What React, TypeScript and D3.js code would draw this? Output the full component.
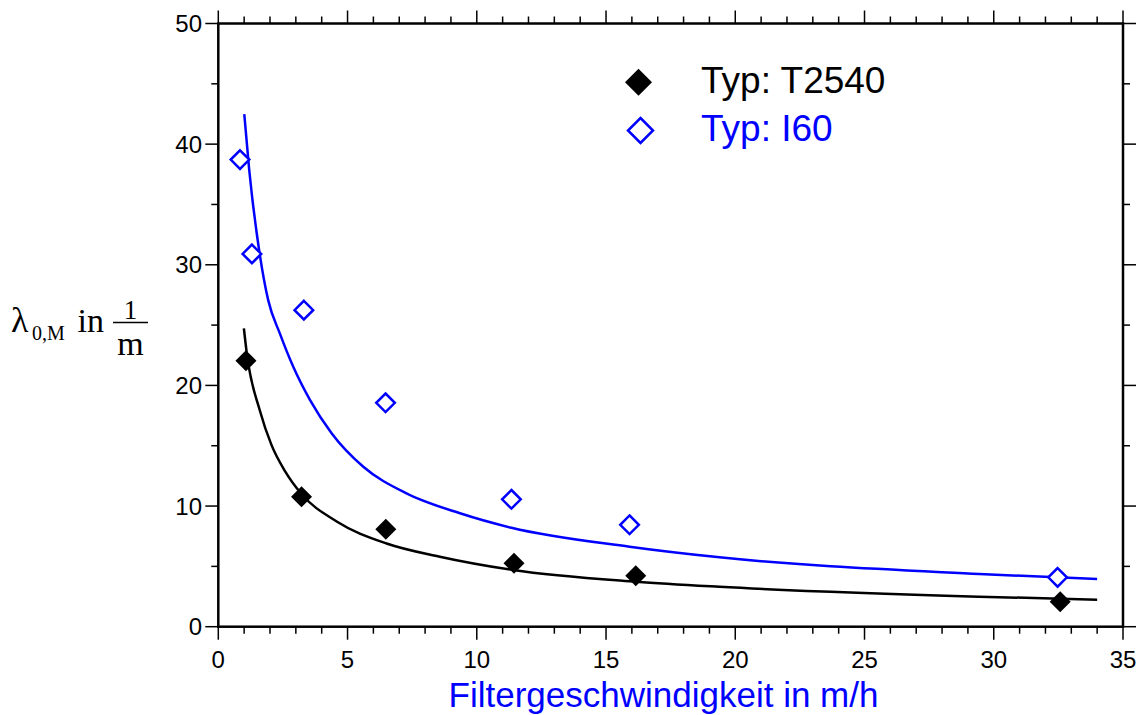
import React from 'react'
import * as d3 from 'd3'

// measured values (Filtergeschwindigkeit in m/h, lambda in 1/m)
const t2540X = [1.07, 3.22, 6.48, 11.44, 16.15, 32.57]
const t2540Y = [22.04, 10.77, 8.07, 5.25, 4.23, 2.07]
const i60X = [0.84, 1.3, 3.31, 6.47, 11.34, 15.91, 32.47]
const i60Y = [38.72, 30.9, 26.24, 18.56, 10.56, 8.45, 4.09]

// fitted curves
const fitBlackX = [0.99, 1.1, 1.61, 2.06, 2.58, 3.22, 4.58, 6.51, 8.57, 11.4, 16.17, 19.39, 29.44, 34]
const fitBlackY = [24.72, 22.7, 17.9, 15.05, 12.9, 11.0, 8.72, 6.9, 5.8, 4.7, 3.73, 3.31, 2.49, 2.24]
const fitBlueX = [1.005, 1.19, 1.58, 1.93, 2.38, 2.9, 3.55, 4.39, 5.61, 7.28, 9.35, 11.34, 15.91, 19.39, 29.44, 34]
const fitBlueY = [42.48, 38.0, 31.2, 27.07, 24.31, 21.54, 18.78, 16.02, 13.26, 11.05, 9.4, 8.2, 6.63, 5.75, 4.37, 3.95]

const xMajor = [0, 5, 10, 15, 20, 25, 30, 35]
const yMajor = [0, 10, 20, 30, 40, 50]

const legendLabels = ['Typ: T2540', 'Typ: I60']

const W = 1143
const H = 715
const m = { left: 218.3, right: 1123, top: 23.5, bottom: 626.7 }
const BLUE = '#0000ff'

function diamond(cx: number, cy: number, r: number) {
  return `M${cx},${cy - r}L${cx + r},${cy}L${cx},${cy + r}L${cx - r},${cy}Z`
}

export default function App() {
  const x = d3.scaleLinear().domain([0, 35]).range([m.left, m.right])
  const y = d3.scaleLinear().domain([0, 50]).range([m.bottom, m.top])

  const line = d3.line<[number, number]>()
    .x(d => x(d[0]))
    .y(d => y(d[1]))
    .curve(d3.curveMonotoneX)

  const blackPath = line(fitBlackX.map((v, i) => [v, fitBlackY[i]]))
  const bluePath = line(fitBlueX.map((v, i) => [v, fitBlueY[i]]))

  const xMinor = d3.range(0, 36, 1).filter(v => v % 5 !== 0)
  const yMinor = d3.range(5, 50, 10)

  const sans = 'Liberation Sans, Arial, sans-serif'
  const serif = 'Liberation Serif, Times New Roman, serif'

  return (
    <svg width={W} height={H} style={{ position: 'absolute', left: 0, top: 0, background: '#fff' }}>
      {/* frame */}
      <rect x={m.left} y={m.top} width={m.right - m.left} height={m.bottom - m.top}
        fill="none" stroke="#000" strokeWidth={2.5} />

      {/* ticks on all four sides, pointing outward */}
      <g stroke="#000" strokeWidth={1.5}>
        {xMajor.map(v => (
          <g key={'xm' + v}>
            <line x1={x(v)} x2={x(v)} y1={m.bottom} y2={m.bottom + 13} />
            <line x1={x(v)} x2={x(v)} y1={m.top} y2={m.top - 13} />
          </g>
        ))}
        {xMinor.map(v => (
          <g key={'xn' + v}>
            <line x1={x(v)} x2={x(v)} y1={m.bottom} y2={m.bottom + 7} />
            <line x1={x(v)} x2={x(v)} y1={m.top} y2={m.top - 7} />
          </g>
        ))}
        {yMajor.map(v => (
          <g key={'ym' + v}>
            <line x1={m.left} x2={m.left - 13} y1={y(v)} y2={y(v)} />
            <line x1={m.right} x2={m.right + 13} y1={y(v)} y2={y(v)} />
          </g>
        ))}
        {yMinor.map(v => (
          <g key={'yn' + v}>
            <line x1={m.left} x2={m.left - 7} y1={y(v)} y2={y(v)} />
            <line x1={m.right} x2={m.right + 7} y1={y(v)} y2={y(v)} />
          </g>
        ))}
      </g>

      {/* tick labels */}
      <g fontFamily={sans} fontSize={24} fill="#000">
        {xMajor.map(v => (
          <text key={'xl' + v} x={x(v)} y={667.5} textAnchor="middle">{v}</text>
        ))}
        {yMajor.map(v => (
          <text key={'yl' + v} x={202} y={y(v) + 8.5} textAnchor="end">{v}</text>
        ))}
      </g>

      {/* x title */}
      <text x={663.5} y={707} textAnchor="middle" fontFamily={sans} fontSize={35} fill={BLUE}>
        Filtergeschwindigkeit in m/h
      </text>

      {/* y title */}
      <g fontFamily={serif} fill="#000">
        <text x={11} y={331.5} fontSize={36}>λ</text>
        <text x={32} y={339.5} fontSize={20}>0,M</text>
        <text x={77.5} y={331.5} fontSize={34}>in</text>
        <text x={130.5} y={319} fontSize={27} textAnchor="middle">1</text>
        <line x1={113} x2={148} y1={322.5} y2={322.5} stroke="#000" strokeWidth={1.5} />
        <text x={130.5} y={355} fontSize={34} textAnchor="middle">m</text>
      </g>

      {/* fit curves */}
      <path d={bluePath ?? ''} fill="none" stroke={BLUE} strokeWidth={2.5} />
      <path d={blackPath ?? ''} fill="none" stroke="#000" strokeWidth={2.5} />

      {/* points */}
      {i60X.map((v, i) => (
        <path key={'b' + i} d={diamond(x(v), y(i60Y[i]), 9.3)} fill="#fff" stroke={BLUE} strokeWidth={2.5} />
      ))}
      {t2540X.map((v, i) => (
        <path key={'k' + i} d={diamond(x(v), y(t2540Y[i]), 10.5)} fill="#000" />
      ))}

      {/* legend */}
      <path d={diamond(638.5, 82.3, 13.5)} fill="#000" />
      <text x={701} y={92.5} fontFamily={sans} fontSize={37} fill="#000">{legendLabels[0]}</text>
      <path d={diamond(640.5, 130.5, 12.5)} fill="#fff" stroke={BLUE} strokeWidth={2.5} />
      <text x={701} y={141} fontFamily={sans} fontSize={37} fill={BLUE}>{legendLabels[1]}</text>
    </svg>
  )
}
